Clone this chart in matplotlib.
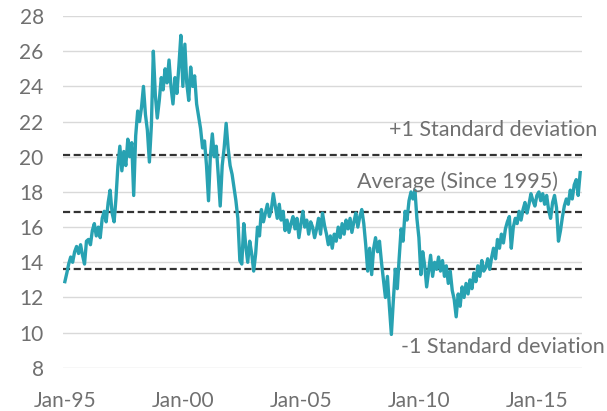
import numpy as np
import pandas as pd
import matplotlib
matplotlib.use("Agg")
import matplotlib.pyplot as plt

# monthly values, Jan-1995 .. Nov-2016
values = [
    # 1995
    12.9, 13.4, 13.9, 14.3, 14.0, 14.6, 14.9, 14.5, 15.0, 14.4, 13.9, 15.2,
    # 1996
    15.3, 15.0, 15.8, 16.2, 15.5, 16.0, 15.4, 16.5, 16.9, 16.3, 17.4, 18.1,
    # 1997
    16.8, 16.3, 17.6, 19.5, 20.6, 19.2, 20.3, 19.5, 21.0, 20.0, 20.8, 17.8,
    # 1998
    21.2, 22.6, 22.0, 22.8, 24.0, 22.4, 21.5, 19.7, 21.8, 26.0, 23.5, 22.2,
    # 1999
    23.2, 24.5, 23.8, 25.0, 24.2, 25.5, 24.0, 23.0, 24.5, 23.6, 25.2, 26.9,
    # 2000
    24.0, 26.4, 24.2, 23.2, 25.1, 24.0, 24.6, 23.0, 22.3, 21.6, 20.5, 20.9,
    # 2001
    19.5, 17.5, 20.0, 21.3, 20.0, 20.6, 19.0, 17.2, 19.5, 20.5, 21.9, 20.5,
    # 2002
    19.5, 19.0, 18.3, 17.5, 16.5, 14.1, 13.9, 16.2, 14.9, 14.0, 15.2, 14.5,
    # 2003
    13.5, 14.5, 16.0, 15.5, 17.0, 16.3, 16.8, 17.3, 16.6, 17.0, 17.9, 17.2,
    # 2004
    16.5, 17.3, 16.4, 16.9, 15.8, 16.4, 15.7, 16.2, 16.6, 15.9, 16.5, 15.4,
    # 2005
    16.2, 16.9, 16.0, 16.4, 15.6, 16.3, 16.0, 15.4, 15.9, 16.5, 15.6, 16.8,
    # 2006
    16.1, 15.6, 15.0, 15.5, 14.8, 15.6, 15.2, 16.0, 15.4, 16.2, 15.6, 16.4,
    # 2007
    15.9, 16.5, 15.7, 16.3, 16.8, 16.0, 16.6, 17.0, 16.2, 15.0, 13.5, 14.8,
    # 2008
    13.3, 14.8, 15.4, 14.6, 15.2, 14.0, 13.0, 12.0, 13.2, 11.5, 9.9, 11.8,
    # 2009
    13.6, 12.5, 14.2, 15.9, 15.2, 16.9, 16.4, 17.5, 18.0, 17.6, 18.1, 16.5,
    # 2010
    15.4, 13.3, 14.6, 13.8, 12.6, 13.5, 14.4, 13.2, 14.0, 13.6, 14.3, 13.5,
    # 2011
    14.1, 13.2, 13.8, 12.8, 13.5, 12.4, 11.9, 10.9, 12.2, 11.5, 12.6, 12.0,
    # 2012
    12.8, 12.2, 13.0, 12.5, 13.4, 12.9, 13.8, 13.2, 14.1, 13.5, 13.7, 14.2,
    # 2013
    13.6, 14.3, 14.8, 14.2, 15.3, 14.8, 15.6, 15.1, 15.9, 16.3, 16.6, 14.8,
    # 2014
    16.0, 16.5, 16.2, 16.9, 16.4, 17.0, 17.4, 16.8, 17.3, 17.9, 17.5, 17.2,
    # 2015
    17.8, 18.0, 17.5, 17.9, 17.3, 17.8, 17.0, 16.5, 17.4, 17.8, 17.1, 15.2,
    # 2016
    15.8, 16.6, 17.2, 17.6, 17.3, 18.1, 17.6, 18.4, 18.7, 17.8, 19.1,
]
dates = pd.date_range("1995-01-01", periods=len(values), freq="MS")

average = 16.85
plus_sd = 20.1
minus_sd = 13.6

tick_years = [1995, 2000, 2005, 2010, 2015]
tick_labels = ["Jan-95", "Jan-00", "Jan-05", "Jan-10", "Jan-15"]

plt.rcParams["font.family"] = ["Lato", "DejaVu Sans"]
grey_text = "#707070"

fig = plt.figure(figsize=(6.07, 4.11), dpi=100)
ax = fig.add_axes([0.104, 0.105, 0.855, 0.856])

ax.set_ylim(8, 28)
ax.set_yticks(np.arange(8, 29, 2))
ax.set_xlim(pd.Timestamp("1994-12-05"), pd.Timestamp("2016-12-01"))
ax.set_xticks([pd.Timestamp(f"{y}-01-01") for y in tick_years])
ax.set_xticklabels(tick_labels)

ax.grid(axis="y", color="#d9d9d9", linewidth=1.0)
ax.set_axisbelow(True)
for s in ax.spines.values():
    s.set_visible(False)
ax.tick_params(length=0, labelsize=15, colors=grey_text)
ax.tick_params(axis="x", pad=17)
ax.tick_params(axis="y", pad=14)

for lvl in [plus_sd, average, minus_sd]:
    ax.axhline(lvl, color="#333333", linewidth=1.6, linestyle=(0, (3.2, 1.6)), zorder=2)

ax.plot(dates, values, color="#28a2b2", linewidth=2.4, zorder=3)

ax.text(1.029, (21.5 - 8) / 20, "+1 Standard deviation", transform=ax.transAxes,
        ha="right", va="center", fontsize=15.5, color=grey_text)
ax.text(0.954, (18.6 - 8) / 20, "Average (Since 1995)", transform=ax.transAxes,
        ha="right", va="center", fontsize=15.5, color=grey_text)
ax.text(1.044, (9.2 - 8) / 20, "-1 Standard deviation", transform=ax.transAxes,
        ha="right", va="center", fontsize=15.5, color=grey_text)

fig.savefig("out.png", dpi=100, facecolor="white")
